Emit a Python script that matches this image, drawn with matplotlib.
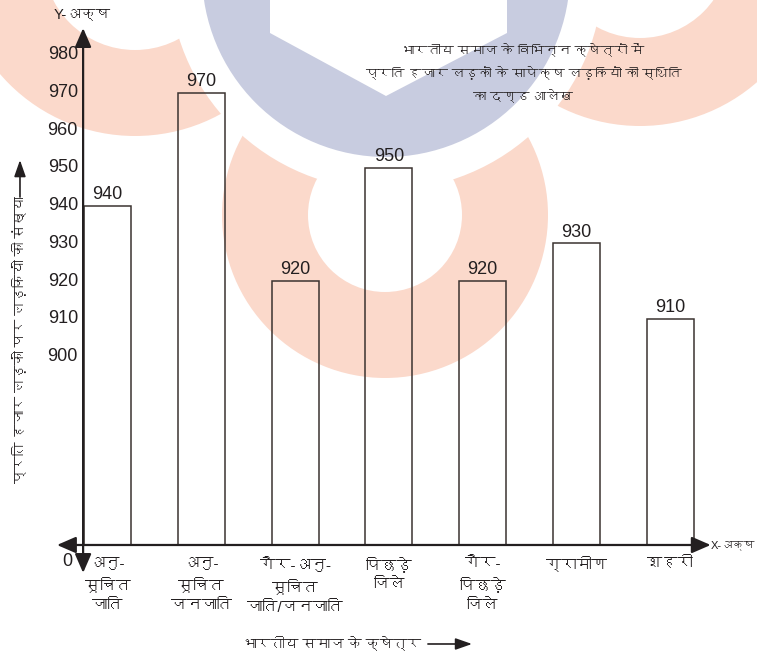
import numpy as np
import matplotlib
matplotlib.use('Agg')
from matplotlib import pyplot as plt
from matplotlib import font_manager
from matplotlib.patches import Circle, Polygon

# भारतीय समाज के विभिन्न क्षेत्रों में प्रति हजार लड़कों पर लड़कियों की संख्या
categories = ['अनु-\nसूचित\nजाति', 'अनु-\nसूचित\nजनजाति', 'गैर-अनु-\nसूचित\nजाति/जनजाति',
              'पिछड़े\nजिले', 'गैर-\nपिछड़े\nजिले', 'ग्रामीण', 'शहरी']
values = [940, 970, 920, 950, 920, 930, 910]
y_ticks = [900, 910, 920, 930, 940, 950, 960, 970, 980]

title_lines = ['भारतीय समाज के विभिन्न क्षेत्रों में',
               'प्रति हजार लड़कों के सापेक्ष लड़कियों की स्थिति',
               'का दण्ड आलेख']
y_label = 'प्रति हजार लड़कों पर लड़कियों की संख्या'
x_label = 'भारतीय समाज के क्षेत्र'

base = 850  # टूटा हुआ अक्ष: 0 से 900 के बीच का भाग छोटा दिखाया गया है


def find_devanagari():
    for f in font_manager.fontManager.ttflist:
        try:
            if 0x0905 in font_manager.get_font(f.fname).get_charmap():
                return f.name
        except Exception:
            pass
    return None


deva = find_devanagari()
families = ['Liberation Sans'] + ([deva] if deva else []) + ['DejaVu Sans']
plt.rcParams['font.family'] = families

ink = '#231f20'
pink = '#fbd9cb'
blue = '#c8cce0'

fig = plt.figure(figsize=(7.57, 6.55), dpi=100)

# पृष्ठभूमि का हल्का चिह्न (पिक्सेल निर्देशांक)
bg = fig.add_axes([0, 0, 1, 1])
bg.set_xlim(0, 757)
bg.set_ylim(655, 0)
bg.axis('off')
for (cx, cy, r) in [(385, 215, 163), (135, -42, 178), (640, -52, 178)]:
    bg.add_patch(Circle((cx, cy), r, color=pink, lw=0, zorder=1))
for (cx, cy, r) in [(385, 215, 77), (135, -42, 92), (640, -52, 90)]:
    bg.add_patch(Circle((cx, cy), r, color='white', lw=0, zorder=2))
bg.add_patch(Circle((386, -27), 217, color='white', lw=0, zorder=3))
bg.add_patch(Circle((386, -27), 184, color=blue, lw=0, zorder=4))
bg.add_patch(Polygon([(270, -5), (270, 33), (386, 96), (507, 33), (507, -5)],
                     closed=True, color='white', lw=0, zorder=5))

ax = fig.add_axes([0, 0, 1, 1])
ax.patch.set_alpha(0)
ax.set_xlim(-1.146, 6.924)
ax.set_ylim(base - 29.18, base + 144.56)
ax.axis('off')

x = np.arange(len(values))
bars = ax.bar(x, np.array(values) - base, bottom=base, width=0.5,
              fill=False, edgecolor='#3b3330', linewidth=1.1, zorder=3)
ax.bar_label(bars, labels=[str(v) for v in values], padding=2,
             fontsize=13, color=ink)

# अक्ष रेखाएँ, दोनों ओर तीर
head = '<|-|>,head_length=1.15,head_width=0.5'
ax.annotate('', xy=(-0.26, base + 137.1), xytext=(-0.26, base - 7.4),
            arrowprops=dict(arrowstyle=head, color=ink, lw=1.6,
                            mutation_scale=10, shrinkA=0, shrinkB=0), zorder=4)
ax.annotate('', xy=(6.43, base), xytext=(-0.538, base),
            arrowprops=dict(arrowstyle=head, color=ink, lw=1.6,
                            mutation_scale=10, shrinkA=0, shrinkB=0), zorder=4)

for t in y_ticks:
    ax.text(-0.3145, t, str(t), ha='right', va='center', fontsize=13, color=ink)
ax.text(-0.426, base - 4.3, '0', ha='center', va='center', fontsize=13, color=ink)

ax.text(-0.267, base + 140.9, 'Y-अक्ष', ha='center', va='center', fontsize=10.5, color=ink)
ax.text(6.905, base, 'X-अक्ष', ha='right', va='center', fontsize=8, color=ink)

for i, c in enumerate(categories):
    ax.text(i, base - 3.2, c, ha='center', va='top', fontsize=11,
            linespacing=1.5, color=ink)

ax.text(4.43, base + 124.9, '\n'.join(title_lines), ha='center', va='center',
        fontsize=9.5, linespacing=1.85, color=ink)

ax.text(-0.933, base + 54.4, y_label, rotation=90, ha='center', va='center',
        fontsize=10, color=ink)
ax.annotate('', xy=(-0.933, base + 102.1), xytext=(-0.933, base + 92.3),
            arrowprops=dict(arrowstyle='-|>,head_length=1.0,head_width=0.35',
                            color=ink, lw=1.2, mutation_scale=10,
                            shrinkA=0, shrinkB=0))

ax.text(3.34, base - 26.26, x_label, ha='right', va='center', fontsize=10, color=ink)
ax.annotate('', xy=(3.886, base - 26.26), xytext=(3.416, base - 26.26),
            arrowprops=dict(arrowstyle='-|>,head_length=1.0,head_width=0.35',
                            color=ink, lw=1.2, mutation_scale=10,
                            shrinkA=0, shrinkB=0))

fig.savefig('out.png', dpi=100)
